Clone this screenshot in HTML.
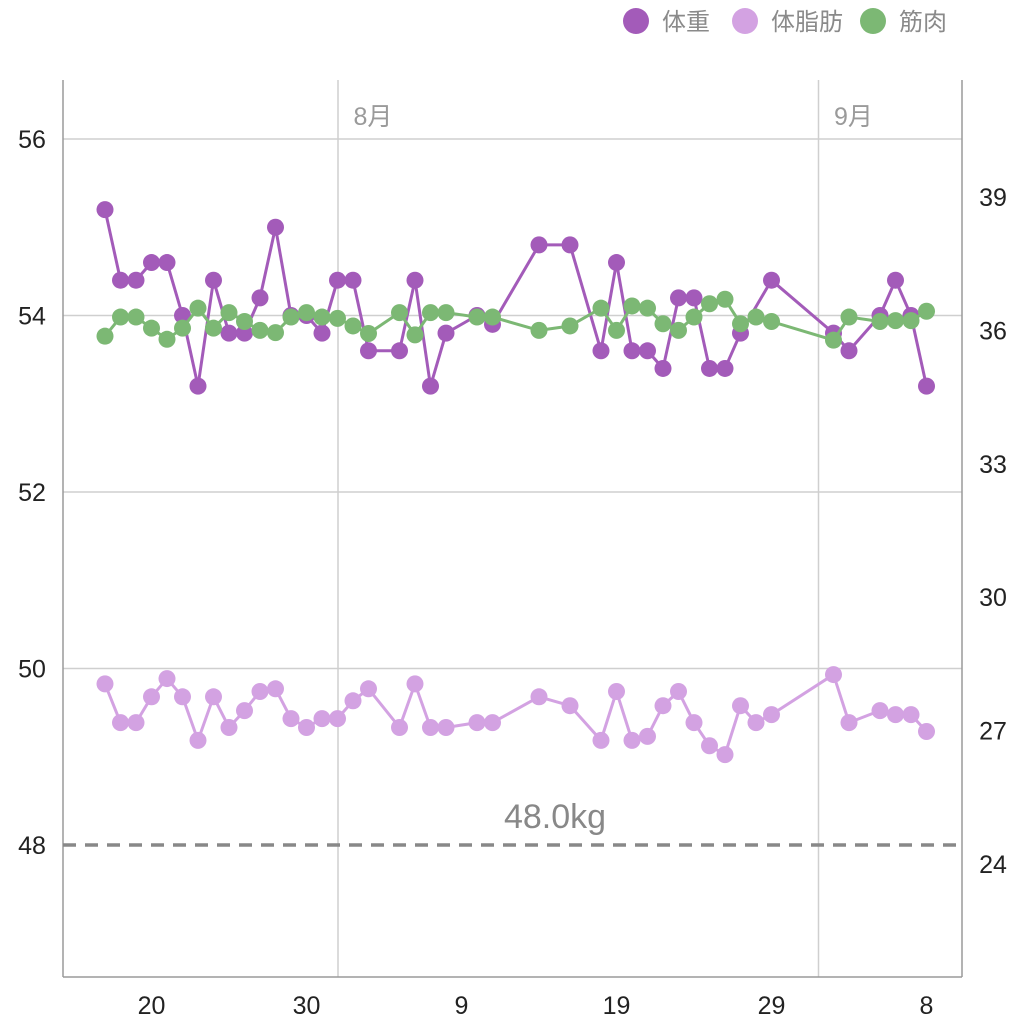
<!DOCTYPE html>
<html><head><meta charset="utf-8">
<style>
html,body{margin:0;padding:0;background:#fff;}
svg{display:block;font-family:"Liberation Sans","Noto Sans CJK JP",sans-serif;}
</style></head>
<body>
<svg id="chart" width="1024" height="1024" viewBox="0 0 1024 1024" xmlns="http://www.w3.org/2000/svg"></svg>
<script>
const leftTicks = [56, 54, 52, 50, 48];
const rightTicks = [39, 36, 33, 30, 27, 24];
const xTickDays = [3, 13, 23, 33, 43, 53];
const xTickLabels = ["20", "30", "9", "19", "29", "8"];
const monthDays = [15, 46];
const monthLabels = ["8月", "9月"];
const targetWeight = 48.0;
const weightDays = [0,1,2,3,4,5,6,7,8,9,10,11,12,13,14,15,16,17,19,20,21,22,24,25,28,30,32,33,34,35,36,37,38,39,40,41,43,47,48,50,51,52,53];
const weightVals = [55.2,54.4,54.4,54.6,54.6,54.0,53.2,54.4,53.8,53.8,54.2,55.0,54.0,54.0,53.8,54.4,54.4,53.6,53.6,54.4,53.2,53.8,54.0,53.9,54.8,54.8,53.6,54.6,53.6,53.6,53.4,54.2,54.2,53.4,53.4,53.8,54.4,53.8,53.6,54.0,54.4,54.0,53.2];
const bodyDays = [0,1,2,3,4,5,6,7,8,9,10,11,12,13,14,15,16,17,19,20,21,22,24,25,28,30,32,33,34,35,36,37,38,39,40,41,42,43,47,48,50,51,52,53];
const muscleVals = [35.87,36.3,36.3,36.05,35.8,36.05,36.5,36.05,36.4,36.2,36.0,35.95,36.3,36.4,36.3,36.27,36.1,35.93,36.4,35.9,36.4,36.4,36.3,36.3,36.0,36.1,36.5,36.0,36.55,36.5,36.15,36.0,36.3,36.6,36.7,36.15,36.3,36.2,35.78,36.3,36.2,36.22,36.22,36.43];
const fatVals = [28.05,27.18,27.18,27.76,28.17,27.76,26.78,27.76,27.07,27.45,27.88,27.94,27.27,27.07,27.27,27.27,27.67,27.94,27.07,28.05,27.07,27.07,27.18,27.18,27.76,27.56,26.78,27.88,26.78,26.87,27.56,27.88,27.18,26.66,26.46,27.56,27.18,27.36,28.26,27.18,27.45,27.36,27.36,26.98];

const X = d => 105 + 15.5 * d;
const YL = v => 845 - (v - 48) * 88.25;
const YR = v => 864 - (v - 24) * (667 / 15);
const NS = "http://www.w3.org/2000/svg";
const svg = document.getElementById("chart");
function mk(tag, attrs, parent) {
  const e = document.createElementNS(NS, tag);
  for (const k in attrs) e.setAttribute(k, attrs[k]);
  (parent || svg).appendChild(e);
  return e;
}
// grid
leftTicks.forEach(v => {
  if (v === 48) return;
  const l = mk("line", {x1: 63, x2: 962, y1: YL(v), y2: YL(v), stroke: "#cfcfcf", "stroke-width": 1.5});
  
  
});
monthDays.forEach((d, i) => {
  const l = mk("line", {x1: X(d) + 0.5, x2: X(d) + 0.5, y1: 80, y2: 977, stroke: "#cfcfcf", "stroke-width": 1.5});
  
  
  const t = mk("text", {x: X(d) + 16, y: 125, "font-size": 25, fill: "#9a9a9a"});
  t.textContent = monthLabels[i];
  
  
});
// frame
[[63,80,63,977],[962,80,962,977],[63,977,962,977]].forEach(p => {
  const l = mk("line", {x1: p[0], y1: p[1], x2: p[2], y2: p[3], stroke: "#9a9a9a", "stroke-width": 1.5});
  
  
});
// left ticks
leftTicks.forEach(v => {
  const t = mk("text", {x: 32, y: YL(v) + 9, "font-size": 25, fill: "#222", "text-anchor": "middle"});
  t.textContent = v;
  
  
});
rightTicks.forEach(v => {
  const t = mk("text", {x: 993, y: YR(v) + 9, "font-size": 25, fill: "#222", "text-anchor": "middle"});
  t.textContent = v;
  
  
});
xTickDays.forEach((d, i) => {
  const t = mk("text", {x: X(d), y: 1014, "font-size": 25, fill: "#222", "text-anchor": "middle"});
  t.textContent = xTickLabels[i];
  
  
});
// target line
const tl = mk("line", {x1: 63, x2: 962, y1: YL(targetWeight), y2: YL(targetWeight), stroke: "#888", "stroke-width": 3.5, "stroke-dasharray": "13 9"});


const tt = mk("text", {x: 555, y: YL(targetWeight) - 17, "font-size": 34, fill: "#888", "text-anchor": "middle"});
tt.textContent = targetWeight.toFixed(1) + "kg";


// series
function series(days, vals, yf, color, name) {
  const g = mk("g", {});
  
  
  const pl = mk("polyline", {points: days.map((d, i) => X(d) + "," + yf(vals[i])).join(" "), fill: "none", stroke: color, "stroke-width": 3, "stroke-linejoin": "round"}, g);
  
  
  days.forEach((d, i) => {
    const c = mk("circle", {cx: X(d), cy: yf(vals[i]), r: 8.5, fill: color}, g);
    
    
  });
}
series(bodyDays, fatVals, YR, "#d3a2e2", "body-fat");
series(weightDays, weightVals, YL, "#a35bb9", "weight");
series(bodyDays, muscleVals, YR, "#7cb874", "muscle");
// legend
const legend = [["体重", "#a35bb9", 636], ["体脂肪", "#d3a2e2", 745], ["筋肉", "#7cb874", 873]];
legend.forEach(l => {
  const g = mk("g", {});
  
  
  mk("circle", {cx: l[2], cy: 21, r: 13, fill: l[1]}, g);
  const t = mk("text", {x: l[2] + 26, y: 30, "font-size": 24, fill: "#8a8a8a"}, g);
  t.textContent = l[0];
});
</script>
</body></html>
